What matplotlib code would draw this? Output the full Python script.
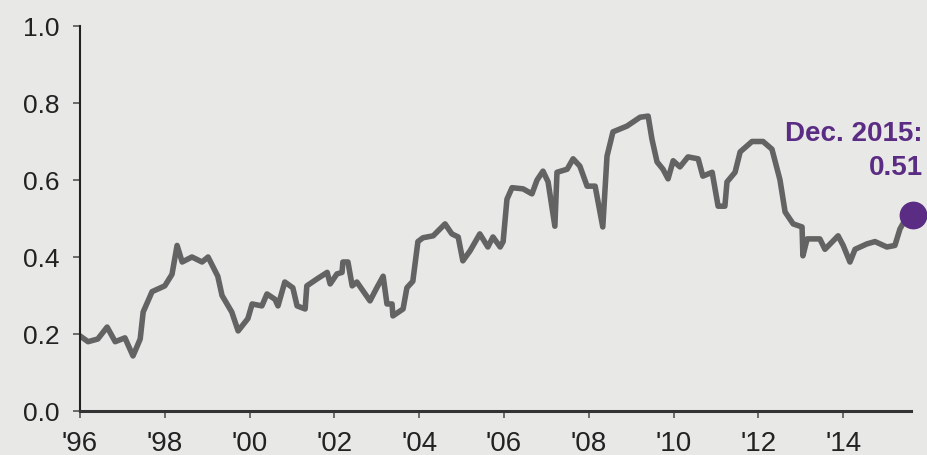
import matplotlib.pyplot as plt
from matplotlib.ticker import FormatStrFormatter

# Correlation series (decimal year, value)
years = [
    1996.00, 1996.19, 1996.42, 1996.64, 1996.83, 1997.06, 1997.25, 1997.42,
    1997.49, 1997.70, 1998.00, 1998.17, 1998.29, 1998.41, 1998.64, 1998.88,
    1999.02, 1999.25, 1999.35, 1999.58, 1999.73, 1999.96, 2000.06, 2000.29,
    2000.41, 2000.60, 2000.67, 2000.83, 2001.02, 2001.12, 2001.31, 2001.35,
    2001.59, 2001.83, 2001.90, 2002.06, 2002.18, 2002.20, 2002.32, 2002.42,
    2002.53, 2002.84, 2003.00, 2003.15, 2003.24, 2003.36, 2003.38, 2003.62,
    2003.71, 2003.85, 2003.97, 2004.09, 2004.33, 2004.61, 2004.77, 2004.92,
    2005.03, 2005.20, 2005.43, 2005.62, 2005.74, 2005.91, 2005.98, 2006.07,
    2006.19, 2006.45, 2006.66, 2006.78, 2006.92, 2007.04, 2007.20, 2007.25,
    2007.49, 2007.63, 2007.79, 2007.96, 2008.15, 2008.33, 2008.43, 2008.57,
    2008.90, 2009.21, 2009.40, 2009.49, 2009.61, 2009.75, 2009.87, 2009.99,
    2010.15, 2010.34, 2010.58, 2010.69, 2010.91, 2011.05, 2011.21, 2011.26,
    2011.45, 2011.57, 2011.85, 2012.11, 2012.32, 2012.51, 2012.63, 2012.82,
    2013.03, 2013.05, 2013.15, 2013.45, 2013.57, 2013.88, 2014.00, 2014.16,
    2014.28, 2014.56, 2014.75, 2015.03, 2015.22, 2015.34, 2015.50, 2015.65,
]
values = [
    0.195, 0.180, 0.187, 0.218, 0.180, 0.190, 0.143, 0.187,
    0.257, 0.310, 0.325, 0.355, 0.430, 0.387, 0.400, 0.387,
    0.400, 0.350, 0.300, 0.257, 0.208, 0.240, 0.278, 0.273,
    0.304, 0.290, 0.273, 0.335, 0.320, 0.273, 0.265, 0.325,
    0.343, 0.360, 0.330, 0.356, 0.360, 0.387, 0.387, 0.325,
    0.335, 0.286, 0.320, 0.350, 0.278, 0.278, 0.247, 0.265,
    0.320, 0.337, 0.440, 0.450, 0.455, 0.486, 0.460, 0.452,
    0.390, 0.416, 0.460, 0.426, 0.452, 0.426, 0.440, 0.550,
    0.580, 0.577, 0.564, 0.600, 0.623, 0.595, 0.480, 0.620,
    0.628, 0.655, 0.636, 0.584, 0.584, 0.478, 0.662, 0.725,
    0.740, 0.763, 0.766, 0.706, 0.647, 0.628, 0.603, 0.650,
    0.634, 0.660, 0.655, 0.610, 0.620, 0.532, 0.532, 0.595,
    0.620, 0.673, 0.700, 0.700, 0.680, 0.600, 0.517, 0.486,
    0.478, 0.403, 0.447, 0.447, 0.420, 0.455, 0.430, 0.387,
    0.420, 0.434, 0.440, 0.426, 0.430, 0.473, 0.504, 0.510,
]
tick_years = [1996, 1998, 2000, 2002, 2004, 2006, 2008, 2010, 2012, 2014]
tick_labels = ["'96", "'98", "'00", "'02", "'04", "'06", "'08", "'10", "'12", "'14"]
last_date_label = "Dec. 2015:"
last_value_label = "0.51"

bg = "#e8e8e6"
purple = "#5b2c83"
sans = ["Liberation Sans", "DejaVu Sans"]

fig = plt.figure(figsize=(9.28, 4.56), dpi=100, facecolor=bg)
ax = fig.add_axes([0.0862, 0.0965, 0.8955, 0.8443], facecolor=bg)

ax.plot(years, values, color="#636363", linewidth=4.0, solid_joinstyle="round")
ax.plot(years[-1], values[-1], "o", color=purple, markersize=19, clip_on=False, zorder=5)
ax.text(2015.88, 0.704, last_date_label, color=purple, fontsize=20, fontweight="bold",
        family=sans, ha="right", va="baseline")
ax.text(2015.88, 0.616, last_value_label, color=purple, fontsize=20, fontweight="bold",
        family=sans, ha="right", va="baseline")

ax.set_xlim(1996, 2015.6)
ax.set_ylim(0, 1.0)
ax.set_yticks([0.0, 0.2, 0.4, 0.6, 0.8, 1.0])
ax.yaxis.set_major_formatter(FormatStrFormatter("%.1f"))
ax.set_xticks(tick_years)
ax.set_xticklabels(tick_labels, family=["Liberation Sans Narrow", "Liberation Sans"],
                   fontsize=20)
for lab in ax.get_yticklabels():
    lab.set_family(sans)
    lab.set_fontsize(19)

for side in ["top", "right"]:
    ax.spines[side].set_visible(False)
ax.spines["left"].set_linewidth(1.5)
ax.spines["left"].set_color("#222222")
ax.spines["bottom"].set_linewidth(2.2)
ax.spines["bottom"].set_color("#333333")
ax.tick_params(axis="y", direction="out", length=5, width=1.2, color="#555555",
               pad=10, labelcolor="#222222")
ax.tick_params(axis="x", direction="out", length=5, width=1.2, color="#555555",
               pad=9, labelcolor="#222222")

fig.savefig("out.png", dpi=100, facecolor=bg)
